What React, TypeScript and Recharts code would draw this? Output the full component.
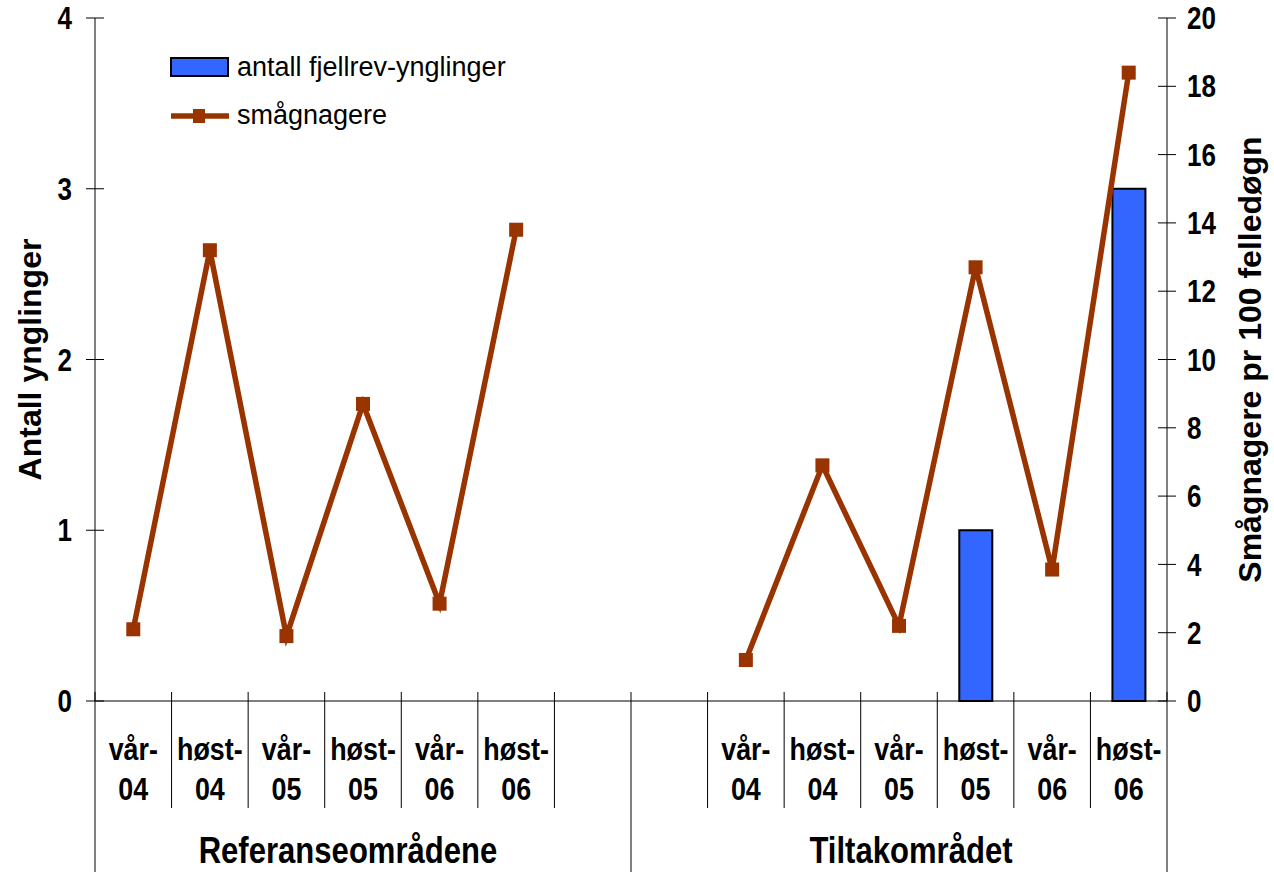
import { ComposedChart, Bar, Line, XAxis, YAxis } from 'recharts'

// verdier lest av figuren
const PERIODS = ['vår-04', 'høst-04', 'vår-05', 'høst-05', 'vår-06', 'høst-06']
const GROUPS = ['Referanseområdene', 'Tiltakområdet']
const REF_DENNINGS = [0, 0, 0, 0, 0, 0]
const TILTAK_DENNINGS = [0, 0, 0, 1, 0, 3]
const REF_RODENTS = [2.1, 13.2, 1.9, 8.7, 2.85, 13.8]
const TILTAK_RODENTS = [1.2, 6.9, 2.2, 12.7, 3.85, 18.4]
const LEFT_TICKS = [0, 1, 2, 3, 4]
const RIGHT_TICKS = [0, 2, 4, 6, 8, 10, 12, 14, 16, 18, 20]

const BAR_FILL = '#3366ff'
const LINE_COLOR = '#993300'
const INK = '#000'
const SANS = "'Liberation Sans', Arial, sans-serif"
// ingen Arial Narrow tilgjengelig -> skaler bredden
const SQUEEZE = 0.84

type Row = {
  key: string
  label: string
  dennings: number | null
  rodents: number | null
  groupStart?: boolean
  groupTitle?: string
  groupEnd?: boolean
}

function buildGroup(g: number, dennings: number[], rodents: number[]): Row[] {
  return PERIODS.map((p, i) => ({
    key: `${g}-${i}`,
    label: p,
    dennings: dennings[i],
    rodents: rodents[i],
  }))
}

const gapRow = (key: string): Row => ({ key, label: '', dennings: null, rodents: null })

// 7 kategorier per gruppe: referanse + tom, tom + tiltak
const refRows = [...buildGroup(0, REF_DENNINGS, REF_RODENTS), gapRow('gap-0')]
const tiltakRows = [gapRow('gap-1'), ...buildGroup(1, TILTAK_DENNINGS, TILTAK_RODENTS)]
refRows[0].groupStart = true
refRows[3].groupTitle = GROUPS[0]
tiltakRows[0].groupStart = true
tiltakRows[3].groupTitle = GROUPS[1]
tiltakRows[tiltakRows.length - 1].groupEnd = true
const data: Row[] = [...refRows, ...tiltakRows]

function Narrow({ x, y, size, anchor = 'middle', children, dy }: any) {
  return (
    <g transform={`translate(${x} ${y}) scale(${SQUEEZE} 1)`}>
      <text x={0} y={0} dy={dy} textAnchor={anchor} fontFamily={SANS} fontWeight="bold" fontSize={size} fill={INK}>
        {children}
      </text>
    </g>
  )
}

function CategoryTick(props: any) {
  const { x, y, payload } = props
  const row = data[payload.index] ?? data[props.index]
  const half = payload.offset ?? 1072 / data.length / 2
  const left = x - half
  const dash = row.label.indexOf('-')
  const titleShift = row.groupTitle === GROUPS[0] ? -15 : 12
  return (
    <g>
      <line x1={left} x2={left} y1={y - 9} y2={y + (row.groupStart ? 171 : 107)} stroke={INK} strokeWidth={1} />
      {row.groupEnd && <line x1={x + half} x2={x + half} y1={y - 9} y2={y + 171} stroke={INK} strokeWidth={1} />}
      {row.label && (
        <>
          <Narrow x={x} y={y + 59} size={32}>{row.label.slice(0, dash + 1)}</Narrow>
          <Narrow x={x} y={y + 99} size={32}>{row.label.slice(dash + 1)}</Narrow>
        </>
      )}
      {row.groupTitle && (
        <Narrow x={x + titleShift} y={y + 162} size={37}>{row.groupTitle}</Narrow>
      )}
    </g>
  )
}

function LeftTick({ x, y, payload }: any) {
  return (
    <g>
      <line x1={x - 9} x2={x + 9} y1={y} y2={y} stroke={INK} />
      <Narrow x={x - 23} y={y} dy="0.36em" anchor="end" size={31}>{payload.value}</Narrow>
    </g>
  )
}

function RightTick({ x, y, payload }: any) {
  return (
    <g>
      <line x1={x - 9} x2={x + 9} y1={y} y2={y} stroke={INK} />
      <Narrow x={x + 20} y={y} dy="0.36em" anchor="start" size={31}>{payload.value}</Narrow>
    </g>
  )
}

function SquareDot({ cx, cy }: any) {
  if (cx == null || cy == null) return null
  return <rect x={cx - 7} y={cy - 7} width={14} height={14} fill={LINE_COLOR} />
}

const axisTitle = (text: string, dx: number) => (props: any) => {
  const { x, y, height } = props.viewBox
  const cx = x + dx
  const cy = y + height / 2
  return (
    <text
      x={cx}
      y={cy}
      transform={`rotate(-90 ${cx} ${cy})`}
      textAnchor="middle"
      dominantBaseline="central"
      fontFamily={SANS}
      fontWeight="bold"
      fontSize={32}
      fill={INK}
    >
      {text}
    </text>
  )
}

function LegendOverlay() {
  return (
    <svg width={540} height={150} style={{ position: 'absolute', left: 0, top: 0, pointerEvents: 'none' }}>
      <rect x={171} y={58} width={57} height={18} fill={BAR_FILL} stroke={INK} strokeWidth={2} />
      <text x={237} y={67} dominantBaseline="central" fontFamily={SANS} fontSize={27} fill={INK}>
        antall fjellrev-ynglinger
      </text>
      <line x1={171} x2={229} y1={116} y2={116} stroke={LINE_COLOR} strokeWidth={5.5} />
      <rect x={193} y={109} width={12} height={14} fill={LINE_COLOR} />
      <text x={237} y={115} dominantBaseline="central" fontFamily={SANS} fontSize={27} fill={INK}>
        smågnagere
      </text>
    </svg>
  )
}

export default function App() {
  return (
    <div style={{ position: 'absolute', left: 0, top: 0, width: 1274, height: 872, background: '#fff' }}>
      <ComposedChart width={1274} height={872} data={data} margin={{ top: 18, right: 0, bottom: 0, left: 0 }}>
        <XAxis
          dataKey="key"
          interval={0}
          height={171}
          tickSize={0}
          tickMargin={0}
          tickLine={false}
          axisLine={{ stroke: INK }}
          tick={<CategoryTick />}
        />
        <YAxis
          yAxisId="left"
          orientation="left"
          width={95}
          domain={[0, 4]}
          ticks={LEFT_TICKS}
          tickSize={0}
          tickMargin={0}
          tickLine={false}
          axisLine={{ stroke: INK }}
          tick={<LeftTick />}
          label={axisTitle('Antall ynglinger', 30)}
        />
        <YAxis
          yAxisId="right"
          orientation="right"
          width={107}
          domain={[0, 20]}
          ticks={RIGHT_TICKS}
          tickSize={0}
          tickMargin={0}
          tickLine={false}
          axisLine={{ stroke: INK }}
          tick={<RightTick />}
          label={axisTitle('Smågnagere pr 100 felledøgn', 83)}
        />
        <Bar
          yAxisId="left"
          dataKey="dennings"
          barSize={33}
          fill={BAR_FILL}
          stroke={INK}
          strokeWidth={2}
          isAnimationActive={false}
        />
        <Line
          yAxisId="right"
          dataKey="rodents"
          stroke={LINE_COLOR}
          strokeWidth={5.5}
          dot={<SquareDot />}
          activeDot={false}
          connectNulls={false}
          isAnimationActive={false}
        />
      </ComposedChart>
      <LegendOverlay />
    </div>
  )
}
